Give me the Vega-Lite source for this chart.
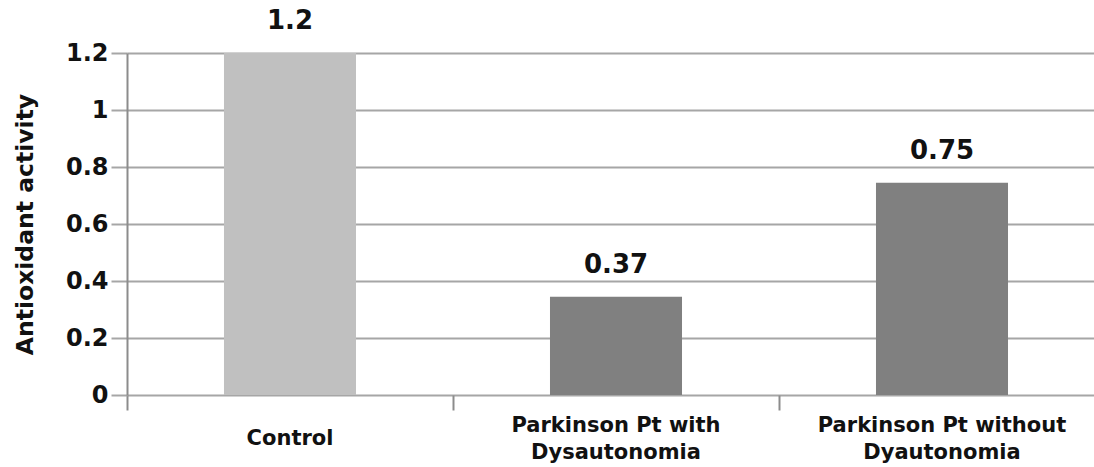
{
  "$schema": "https://vega.github.io/schema/vega-lite/v6.json",
  "autosize": "none",
  "width": 967,
  "height": 342,
  "padding": {"left": 127, "top": 53, "right": 0, "bottom": 72},
  "background": "white",
  "config": {"view": {"stroke": null}, "font": "DejaVu Sans"},
  "data": {"values": [
    {"group": "Control", "value": 1.2, "label": "1.2", "kind": "control"},
    {"group": "Parkinson Pt with Dysautonomia", "value": 0.345, "label": "0.37", "kind": "pt"},
    {"group": "Parkinson Pt without Dyautonomia", "value": 0.745, "label": "0.75", "kind": "pt"}
  ]},
  "encoding": {
    "x": {
      "field": "group", "type": "nominal", "sort": null,
      "scale": {"range": [0, 978], "paddingInner": 0, "paddingOuter": 0},
      "axis": {
        "title": null, "labelAngle": 0, "bandPosition": 0, "domain": false,
        "tickSize": 15, "tickWidth": 2, "tickColor": "#8c8c8c",
        "labelExpr": "datum.value == 'Control' ? 'Control' : (indexof(datum.value, 'without') > 0 ? ['Parkinson Pt without', 'Dyautonomia'] : ['Parkinson Pt with', 'Dysautonomia'])",
        "labelBaseline": "middle",
        "labelPadding": {"condition": {"test": "datum.value == 'Control'", "value": 28}, "value": 15},
        "labelLineHeight": 27,
        "labelFont": "DejaVu Sans", "labelFontWeight": "bold", "labelFontSize": 21,
        "labelColor": "#111111", "labelLimit": 0, "labelOverlap": false, "labelFlush": false,
        "labelBound": false
      }
    },
    "y": {
      "field": "value", "type": "quantitative",
      "scale": {"domain": [0, 1.2], "nice": false, "zero": true},
      "axis": {
        "values": [0, 0.2, 0.4, 0.6, 0.8, 1, 1.2], "format": "~g",
        "title": "Antioxidant activity", "titleFont": "DejaVu Sans", "titleFontWeight": "bold",
        "titleFontSize": 23.5, "titleColor": "#111111", "titleX": -102, "titleBaseline": "middle",
        "titleAngle": -90,
        "labelFont": "DejaVu Sans", "labelFontWeight": "bold", "labelFontSize": 24,
        "labelColor": "#111111", "labelPadding": 3, "labelFlush": false, "labelOverlap": false,
        "tickSize": 16, "tickWidth": 2, "tickColor": "#a6a6a6",
        "grid": true, "gridColor": "#a6a6a6", "gridWidth": 2,
        "domain": true, "domainColor": "#8c8c8c", "domainWidth": 2
      }
    }
  },
  "layer": [
    {
      "mark": {"type": "bar", "width": {"band": 0.405}},
      "encoding": {
        "color": {"field": "kind", "type": "nominal",
          "scale": {"domain": ["control", "pt"], "range": ["#c0c0c0", "#808080"]},
          "legend": null}
      }
    },
    {
      "mark": {"type": "text", "dy": -32, "baseline": "middle", "font": "DejaVu Sans",
        "fontWeight": "bold", "fontSize": 26, "color": "#111111"},
      "encoding": {"text": {"field": "label", "type": "nominal"}}
    }
  ]
}
